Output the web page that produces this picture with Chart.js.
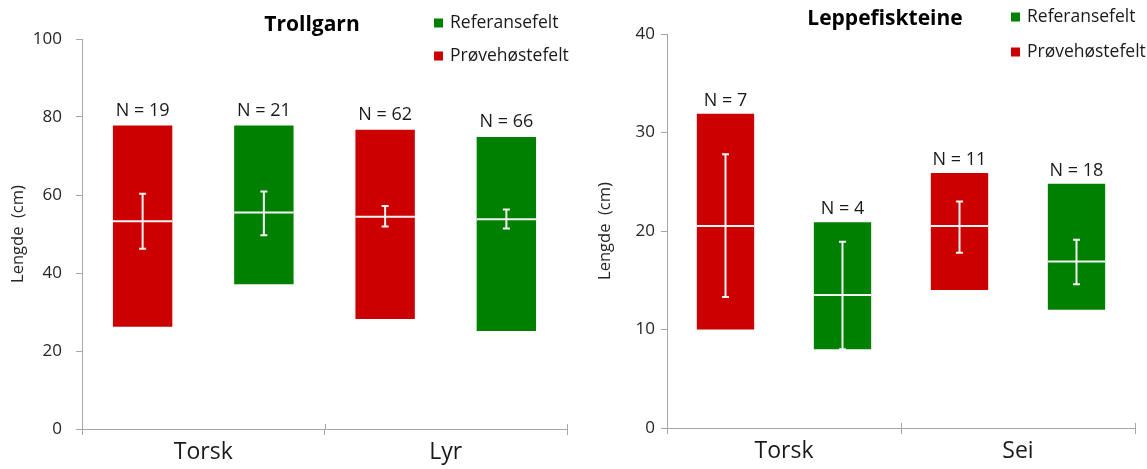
<!DOCTYPE html>
<html>
<head>
<meta charset="utf-8">
<script src="https://cdn.jsdelivr.net/npm/chart.js@4.4.1/dist/chart.umd.min.js"></script>
<style>
  html, body { margin: 0; padding: 0; background: #fff; }
  #wrap { position: relative; width: 1147px; height: 469px; }
  #trollChart { position: absolute; left: 0; top: 0; }
  #leppeChart { position: absolute; left: 580px; top: 0; }
</style>
</head>
<body>
<div id="wrap">
  <canvas id="trollChart" width="580" height="469"></canvas>
  <canvas id="leppeChart" width="567" height="469"></canvas>
</div>
<script>
// --- Trollgarn ---
const trollCategories = ['Torsk', 'Lyr'];
const trollProveMin = [26.2, 28.2];
const trollProveMax = [77.8, 76.7];
const trollProveMean = [53.3, 54.4];
const trollProveErrLow = [46.2, 51.9];
const trollProveErrHigh = [60.3, 57.2];
const trollProveN = [19, 62];
const trollRefMin = [37.1, 25.1];
const trollRefMax = [77.8, 74.9];
const trollRefMean = [55.5, 53.8];
const trollRefErrLow = [49.7, 51.4];
const trollRefErrHigh = [60.9, 56.3];
const trollRefN = [21, 66];
const trollTicks = [0, 20, 40, 60, 80, 100];

// --- Leppefiskteine ---
const leppeCategories = ['Torsk', 'Sei'];
const leppeProveMin = [10.0, 14.0];
const leppeProveMax = [31.9, 25.9];
const leppeProveMean = [20.5, 20.5];
const leppeProveErrLow = [13.3, 17.8];
const leppeProveErrHigh = [27.8, 23.0];
const leppeProveN = [7, 11];
const leppeRefMin = [8.0, 12.0];
const leppeRefMax = [20.9, 24.8];
const leppeRefMean = [13.5, 16.9];
const leppeRefErrLow = [8.0, 14.6];
const leppeRefErrHigh = [18.9, 19.1];
const leppeRefN = [4, 18];
const leppeTicks = [0, 10, 20, 30, 40];

const RED = '#CC0000';
const GREEN = '#008000';
const AXIS = '#a6a6a6';
const FONT = "'Open Sans', 'Noto Sans', sans-serif";

const zip = (a, b) => a.map((v, i) => [v, b[i]]);

// Draws mean lines, error bars, N labels, title and legend
const overlayPlugin = {
    id: 'overlay',
    afterDatasetsDraw(chart, args, opts) {
        const ctx = chart.ctx;
        const y = chart.scales.y;
        ctx.save();
        chart.data.datasets.forEach((ds, di) => {
            const meta = chart.getDatasetMeta(di);
            meta.data.forEach((bar, i) => {
                const left = bar.x - bar.width / 2;
                const right = bar.x + bar.width / 2;
                const top = Math.min(bar.y, bar.base);

                // mean line
                const ym = y.getPixelForValue(ds.means[i]);
                ctx.strokeStyle = '#f4f4f4';
                ctx.lineWidth = 2;
                ctx.beginPath();
                ctx.moveTo(left, ym);
                ctx.lineTo(right, ym);
                ctx.stroke();

                // error bar
                const y1 = y.getPixelForValue(ds.errLow[i]);
                const y2 = y.getPixelForValue(ds.errHigh[i]);
                ctx.beginPath();
                ctx.moveTo(bar.x, y1);
                ctx.lineTo(bar.x, y2);
                ctx.moveTo(bar.x - 3.5, y1);
                ctx.lineTo(bar.x + 3.5, y1);
                ctx.moveTo(bar.x - 3.5, y2);
                ctx.lineTo(bar.x + 3.5, y2);
                ctx.stroke();

                // N label
                ctx.fillStyle = '#1a1a1a';
                ctx.font = '18px ' + FONT;
                ctx.textAlign = 'center';
                ctx.textBaseline = 'middle';
                ctx.fillText('N = ' + ds.counts[i], bar.x, top - opts.nOffset);
            });
        });
        ctx.restore();
    },
    afterDraw(chart, args, opts) {
        const ctx = chart.ctx;
        const x = chart.scales.x;
        ctx.save();

        // upward stubs so the category ticks cross the axis
        const n = chart.data.labels.length;
        ctx.strokeStyle = AXIS;
        ctx.lineWidth = 1;
        for (let i = 0; i <= n; i++) {
            const px = Math.round(x.left + i * x.width / n) + 0.5;
            ctx.beginPath();
            ctx.moveTo(px, x.top - 5);
            ctx.lineTo(px, x.top);
            ctx.stroke();
        }

        // title
        ctx.fillStyle = '#000';
        ctx.font = 'bold 21px ' + FONT;
        ctx.textAlign = 'center';
        ctx.textBaseline = 'middle';
        ctx.fillText(opts.title, opts.titleX, opts.titleY);

        // legend (reversed order, like the original)
        ctx.font = '17.5px ' + FONT;
        ctx.textAlign = 'left';
        const items = chart.data.datasets.slice().reverse();
        items.forEach((ds, k) => {
            const ly = opts.legendY[k];
            ctx.fillStyle = ds.backgroundColor;
            ctx.fillRect(opts.legendX, ly - 4.5, 9, 9);
            ctx.fillStyle = '#1a1a1a';
            ctx.fillText(ds.label, opts.legendX + 16, ly);
        });
        ctx.restore();
    }
};

function makeChart(id, cfg) {
    return new Chart(document.getElementById(id), {
        type: 'bar',
        data: {
            labels: cfg.labels,
            datasets: [
                {
                    label: 'Prøvehøstefelt',
                    data: zip(cfg.prove.min, cfg.prove.max),
                    backgroundColor: RED,
                    means: cfg.prove.mean,
                    errLow: cfg.prove.errLow,
                    errHigh: cfg.prove.errHigh,
                    counts: cfg.prove.n
                },
                {
                    label: 'Referansefelt',
                    data: zip(cfg.ref.min, cfg.ref.max),
                    backgroundColor: GREEN,
                    means: cfg.ref.mean,
                    errLow: cfg.ref.errLow,
                    errHigh: cfg.ref.errHigh,
                    counts: cfg.ref.n
                }
            ]
        },
        options: {
            responsive: false,
            animation: false,
            barPercentage: 0.49,
            categoryPercentage: 1.0,
            layout: { padding: { top: cfg.top, right: cfg.right, bottom: 0, left: 0 } },
            plugins: {
                legend: { display: false },
                tooltip: { enabled: false },
                overlay: cfg.overlay
            },
            scales: {
                x: {
                    afterFit(scale) { scale.height = cfg.xHeight; },
                    grid: { drawOnChartArea: false, color: AXIS, tickLength: 6, offset: true },
                    border: { color: AXIS },
                    ticks: { color: '#1a1a1a', font: { family: FONT, size: 23 }, padding: 4 }
                },
                y: {
                    min: 0,
                    max: cfg.ticks[cfg.ticks.length - 1],
                    afterFit(scale) { scale.width = cfg.yWidth; },
                    afterBuildTicks(scale) { scale.ticks = cfg.ticks.map(v => ({ value: v })); },
                    grid: { drawOnChartArea: false, color: AXIS, tickLength: 6 },
                    border: { color: AXIS },
                    ticks: { color: '#262626', font: { family: FONT, size: 17 }, padding: cfg.tickPad },
                    title: {
                        display: true,
                        text: 'Lengde  (cm)',
                        color: '#262626',
                        font: { family: FONT, size: 16.5 },
                        padding: { top: cfg.titlePad, bottom: 0 }
                    }
                }
            }
        },
        plugins: [overlayPlugin]
    });
}

makeChart('trollChart', {
    labels: trollCategories,
    ticks: trollTicks,
    prove: { min: trollProveMin, max: trollProveMax, mean: trollProveMean, errLow: trollProveErrLow, errHigh: trollProveErrHigh, n: trollProveN },
    ref: { min: trollRefMin, max: trollRefMax, mean: trollRefMean, errLow: trollRefErrLow, errHigh: trollRefErrHigh, n: trollRefN },
    top: 39, right: 13, xHeight: 40, yWidth: 82, tickPad: 14, titlePad: 8,
    overlay: { title: 'Trollgarn', titleX: 312, titleY: 25, legendX: 434, legendY: [23, 56], nOffset: 15 }
});

makeChart('leppeChart', {
    labels: leppeCategories,
    ticks: leppeTicks,
    prove: { min: leppeProveMin, max: leppeProveMax, mean: leppeProveMean, errLow: leppeProveErrLow, errHigh: leppeProveErrHigh, n: leppeProveN },
    ref: { min: leppeRefMin, max: leppeRefMax, mean: leppeRefMean, errLow: leppeRefErrLow, errHigh: leppeRefErrHigh, n: leppeRefN },
    top: 34, right: 12, xHeight: 41, yWidth: 87, tickPad: 6, titlePad: 15,
    overlay: { title: 'Leppefiskteine', titleX: 305, titleY: 19, legendX: 431, legendY: [17, 52], nOffset: 13 }
});
</script>
</body>
</html>
